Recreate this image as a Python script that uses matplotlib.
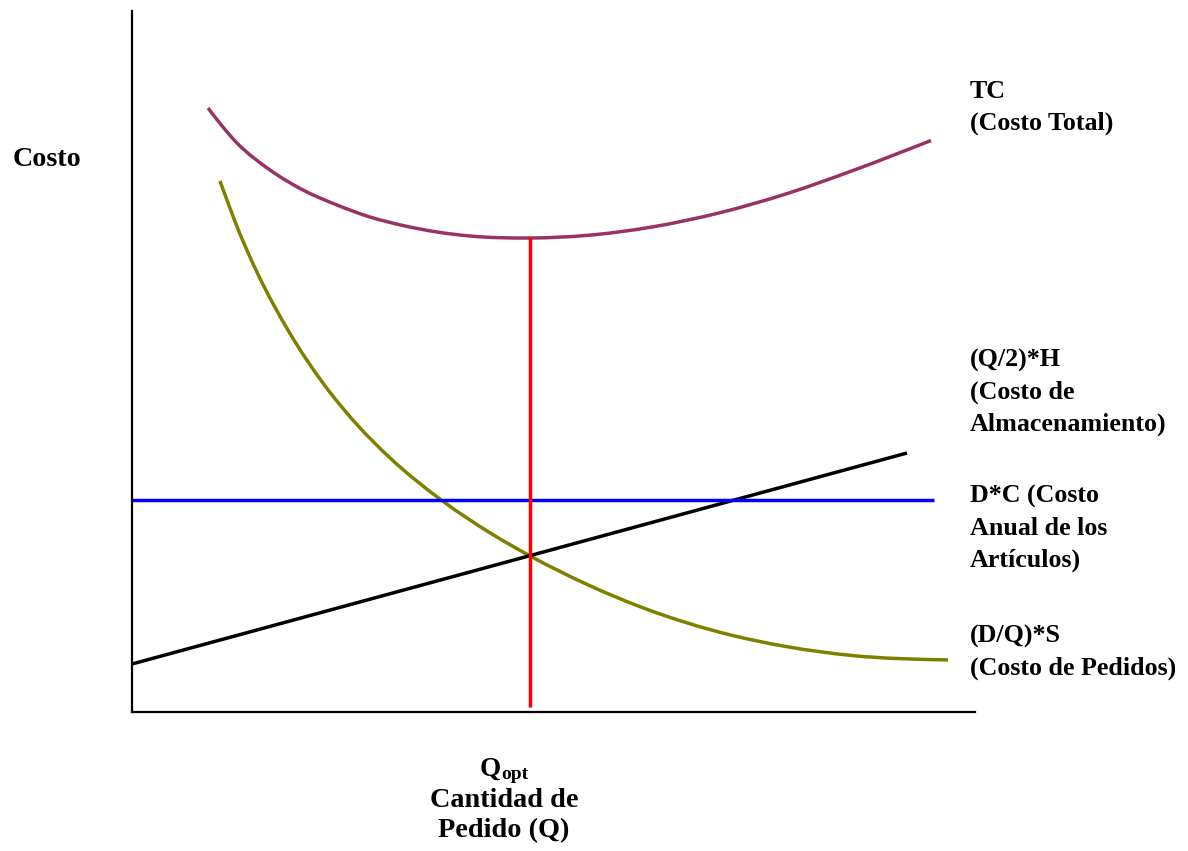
import matplotlib
matplotlib.use("Agg")
import numpy as np
import matplotlib.pyplot as plt
from matplotlib.path import Path
from matplotlib.patches import PathPatch

# Order quantity Q (horizontal units) and cost (vertical units)
tc_q = [76, 105, 138, 171, 205, 238, 271, 305, 338, 398, 455, 521, 588, 655, 721, 799]
tc_cost = [604, 569, 542, 522, 507, 495, 486.5, 480, 476, 474, 476.6, 485.2, 499.3, 518.4, 541.5, 571.5]

order_q = [88, 108, 125, 158, 191, 225, 258, 311, 358, 398, 455, 521, 588, 655, 721, 816]
order_cost = [531, 478, 439.8, 378.5, 328.9, 287.4, 254.1, 210.7, 179.2, 156.1,
              127.6, 100.5, 79.7, 65.3, 56.4, 52.1]

holding_q = [0, 775]
holding_cost = [48, 259]

annual_q = [0, 802]
annual_cost = [212, 212]

q_opt = 398
q_opt_cost = [5, 475]

W, H = 1188, 851
fig = plt.figure(figsize=(W / 100, H / 100), dpi=100)
ax = fig.add_axes([132 / W, 1 - 712 / H, (975 - 132) / W, (712 - 11) / H])
ax.set_xlim(0, 843)
ax.set_ylim(0, 701)

lw = 2.5


def smooth_curve(xs, ys, **kw):
    """Draw a cubic Hermite bezier through the points (x must increase)."""
    x = np.asarray(xs, float)
    y = np.asarray(ys, float)
    h = np.diff(x)
    d = np.diff(y) / h
    m = np.empty_like(x)
    m[1:-1] = (d[:-1] * h[1:] + d[1:] * h[:-1]) / (h[:-1] + h[1:])
    m[0] = 1.5 * d[0] - 0.5 * m[1]
    m[-1] = 1.5 * d[-1] - 0.5 * m[-2]
    verts = [(x[0], y[0])]
    codes = [Path.MOVETO]
    for i in range(len(x) - 1):
        t = h[i] / 3
        verts += [(x[i] + t, y[i] + m[i] * t),
                  (x[i + 1] - t, y[i + 1] - m[i + 1] * t),
                  (x[i + 1], y[i + 1])]
        codes += [Path.CURVE4] * 3
    patch = PathPatch(Path(verts, codes), fill=False, transform=ax.transData,
                      capstyle="butt", joinstyle="round", **kw)
    ax.add_patch(patch)


smooth_curve(tc_q, tc_cost, edgecolor="#993366", lw=lw)
smooth_curve(order_q, order_cost, edgecolor="#808000", lw=lw)
ax.plot(holding_q, holding_cost, color="black", lw=lw, solid_capstyle="butt")
ax.plot(annual_q, annual_cost, color="#0000ff", lw=lw, solid_capstyle="butt")
ax.plot([q_opt, q_opt], q_opt_cost, color="#ff0000", lw=lw, solid_capstyle="butt")

for side in ("top", "right"):
    ax.spines[side].set_visible(False)
for side in ("left", "bottom"):
    ax.spines[side].set_linewidth(1.6)
ax.set_xticks([])
ax.set_yticks([])

font = dict(family="Liberation Serif", weight="bold", color="black")


def label(px, py, s, size=18.7, **kw):
    fig.text(px / W, 1 - py / H, s, fontsize=size, va="baseline", **dict(font, **kw))


def block(px, first_baseline, lines, step=32):
    for k, line in enumerate(lines):
        label(px, first_baseline + k * step, line)


label(13, 166, "Costo", size=20.2)

block(970, 98, ["TC", "(Costo Total)"])
block(970, 367, ["(Q/2)*H", "(Costo de", "Almacenamiento)"])
block(970, 503, ["D*C (Costo", "Anual de los", "Artículos)"])
block(970, 643, ["(D/Q)*S", "(Costo de Pedidos)"])

label(501, 776, "Q", size=19.5, ha="right")
label(501, 779, "opt", size=14, ha="left")
label(504, 807, "Cantidad de", size=20.3, ha="center")
label(504, 837, "Pedido (Q)", size=20.3, ha="center")

fig.savefig("out.png", dpi=100)
